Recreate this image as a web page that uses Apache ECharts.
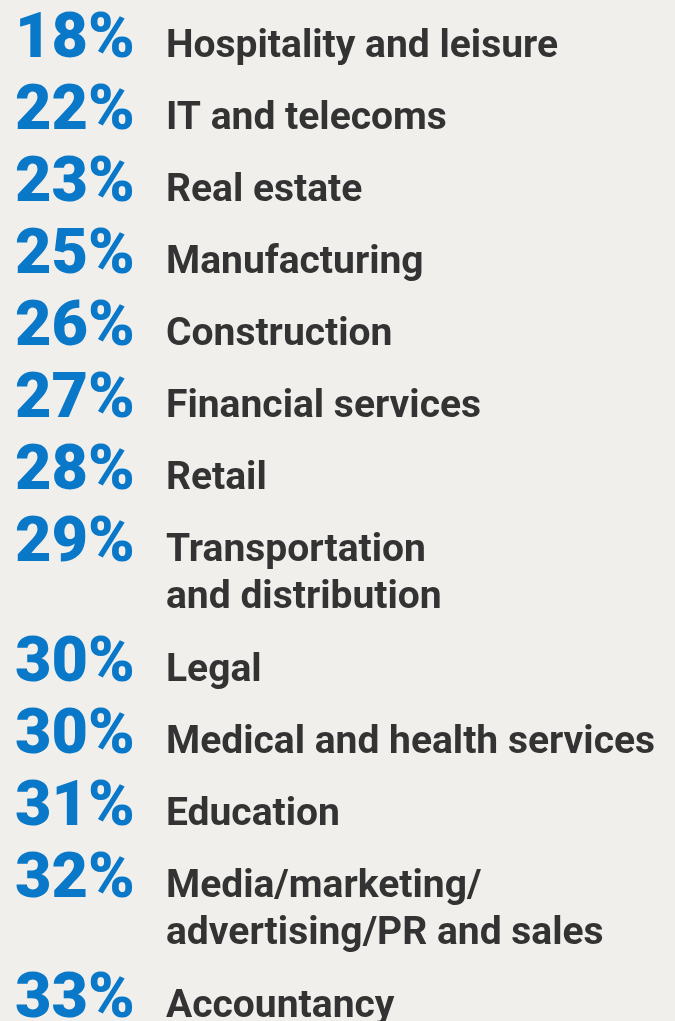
<!DOCTYPE html>
<html>
<head>
<meta charset="utf-8">
<script src="https://cdn.jsdelivr.net/npm/echarts@6/dist/echarts.min.js"></script>
<style>
  html, body { margin: 0; padding: 0; background: #f0efeb; }
  #main { width: 675px; height: 1021px; }
</style>
</head>
<body>
<div id="main"></div>
<script>
var categories = [
    'Hospitality and leisure',
    'IT and telecoms',
    'Real estate',
    'Manufacturing',
    'Construction',
    'Financial services',
    'Retail',
    'Transportation\nand distribution',
    'Legal',
    'Medical and health services',
    'Education',
    'Media/marketing/\nadvertising/PR and sales',
    'Accountancy'
];
var shares = [18, 22, 23, 25, 26, 27, 28, 29, 30, 30, 31, 32, 33];

// row position: one step per row, plus extra for wrapped labels
var rows = [];
var pos = 0;
categories.forEach(function (name, i) {
    rows.push([shares[i], pos, name]);
    pos += 1 + (name.split('\n').length - 1) * (48 / 72);
});

var BLUE = '#0a78c8';
var DARK = '#333333';

var myChart = echarts.init(document.getElementById('main'));
var option = {
    backgroundColor: '#f0efeb',
    animation: false,
    grid: { left: 15, top: 21, width: 151, height: 999 },
    xAxis: { type: 'value', min: 0, max: 1, show: false },
    yAxis: { type: 'value', min: -0.5, max: 13.375, inverse: true, show: false },
    series: [
        {
            type: 'custom',
            data: rows,
            renderItem: function (params, api) {
                var p = api.coord([0, api.value(1)]);
                var q = api.coord([1, api.value(1)]);
                var name = categories[params.dataIndex];
                return {
                    type: 'group',
                    children: [
                        {
                            type: 'text',
                            x: p[0],
                            y: p[1] - 16,
                            style: {
                                text: api.value(0) + '%',
                                fill: BLUE,
                                font: '900 63px Roboto',
                                textAlign: 'left',
                                textVerticalAlign: 'middle'
                            }
                        },
                        {
                            type: 'text',
                            x: q[0],
                            y: q[1] - 33,
                            style: {
                                text: name,
                                fill: DARK,
                                font: 'bold 39px Roboto',
                                lineHeight: 47,
                                textAlign: 'left',
                                textVerticalAlign: 'top'
                            }
                        }
                    ]
                };
            }
        }
    ]
};
myChart.setOption(option);
</script>
</body>
</html>
